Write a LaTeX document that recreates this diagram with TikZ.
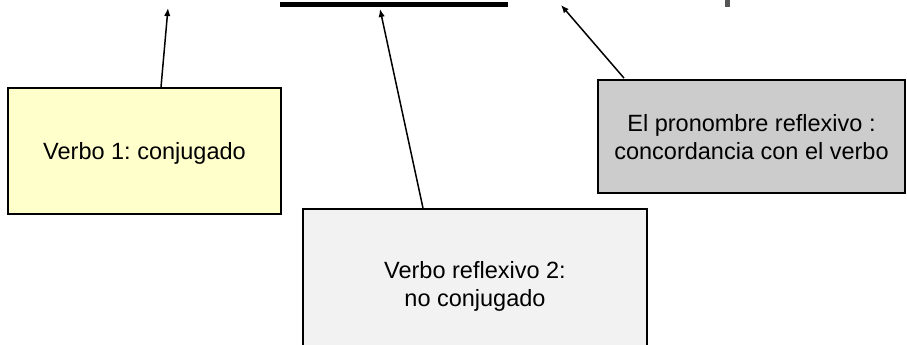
\documentclass[tikz,border=0pt]{standalone}
\usepackage{fontspec}
\setmainfont{Liberation Sans}
\usetikzlibrary{arrows.meta}
\definecolor{amarillo}{HTML}{FFFFCC}
\definecolor{grisclaro}{HTML}{F2F2F2}
\definecolor{gris}{HTML}{CCCCCC}
\definecolor{grisoscuro}{HTML}{555555}
\frenchspacing
\begin{document}
\begin{tikzpicture}[x=1pt, y=-1pt, line width=1.5pt,
        main/.style = {draw, line width=1.8pt, align=center, inner sep=0pt, text depth=0pt, font=\fontsize{23.5}{28}\selectfont},
        flecha/.style = {-{Latex[length=8pt,width=6.5pt]}}]
        \clip (0,0) rectangle (907,345);
        \node[main, fill=amarillo, minimum width=273pt, minimum height=126pt] (verbouno) at (144.5,151) {Verbo 1: conjugado};
        \node[main, fill=grisclaro, minimum width=344pt, minimum height=150pt] (reflexivo) at (475,284) {Verbo reflexivo 2:\\no conjugado};
        \node[main, fill=gris, minimum width=307pt, minimum height=113pt] (pronombre) at (751.5,136.5) {El pronombre reflexivo :\\concordancia con el verbo};
        
        \coordinate (barraizq) at (280,5);
        \coordinate (barrader) at (508,5);
        \draw[line width=5pt] (barraizq) -- (barrader);
        \fill[grisoscuro] (725,0) rectangle (730,7);
        
        \coordinate (puntauno) at (168,8);
        \coordinate (puntados) at (380,9);
        \coordinate (puntatres) at (561,5);
        
        \draw[flecha] ([xshift=16.5pt]verbouno.north) -- (puntauno);
        \draw[flecha] ([xshift=-52pt]reflexivo.north) -- (puntados);
        \draw[flecha] ([xshift=-127.5pt,yshift=1pt]pronombre.north) -- (puntatres);
\end{tikzpicture}
\end{document}
